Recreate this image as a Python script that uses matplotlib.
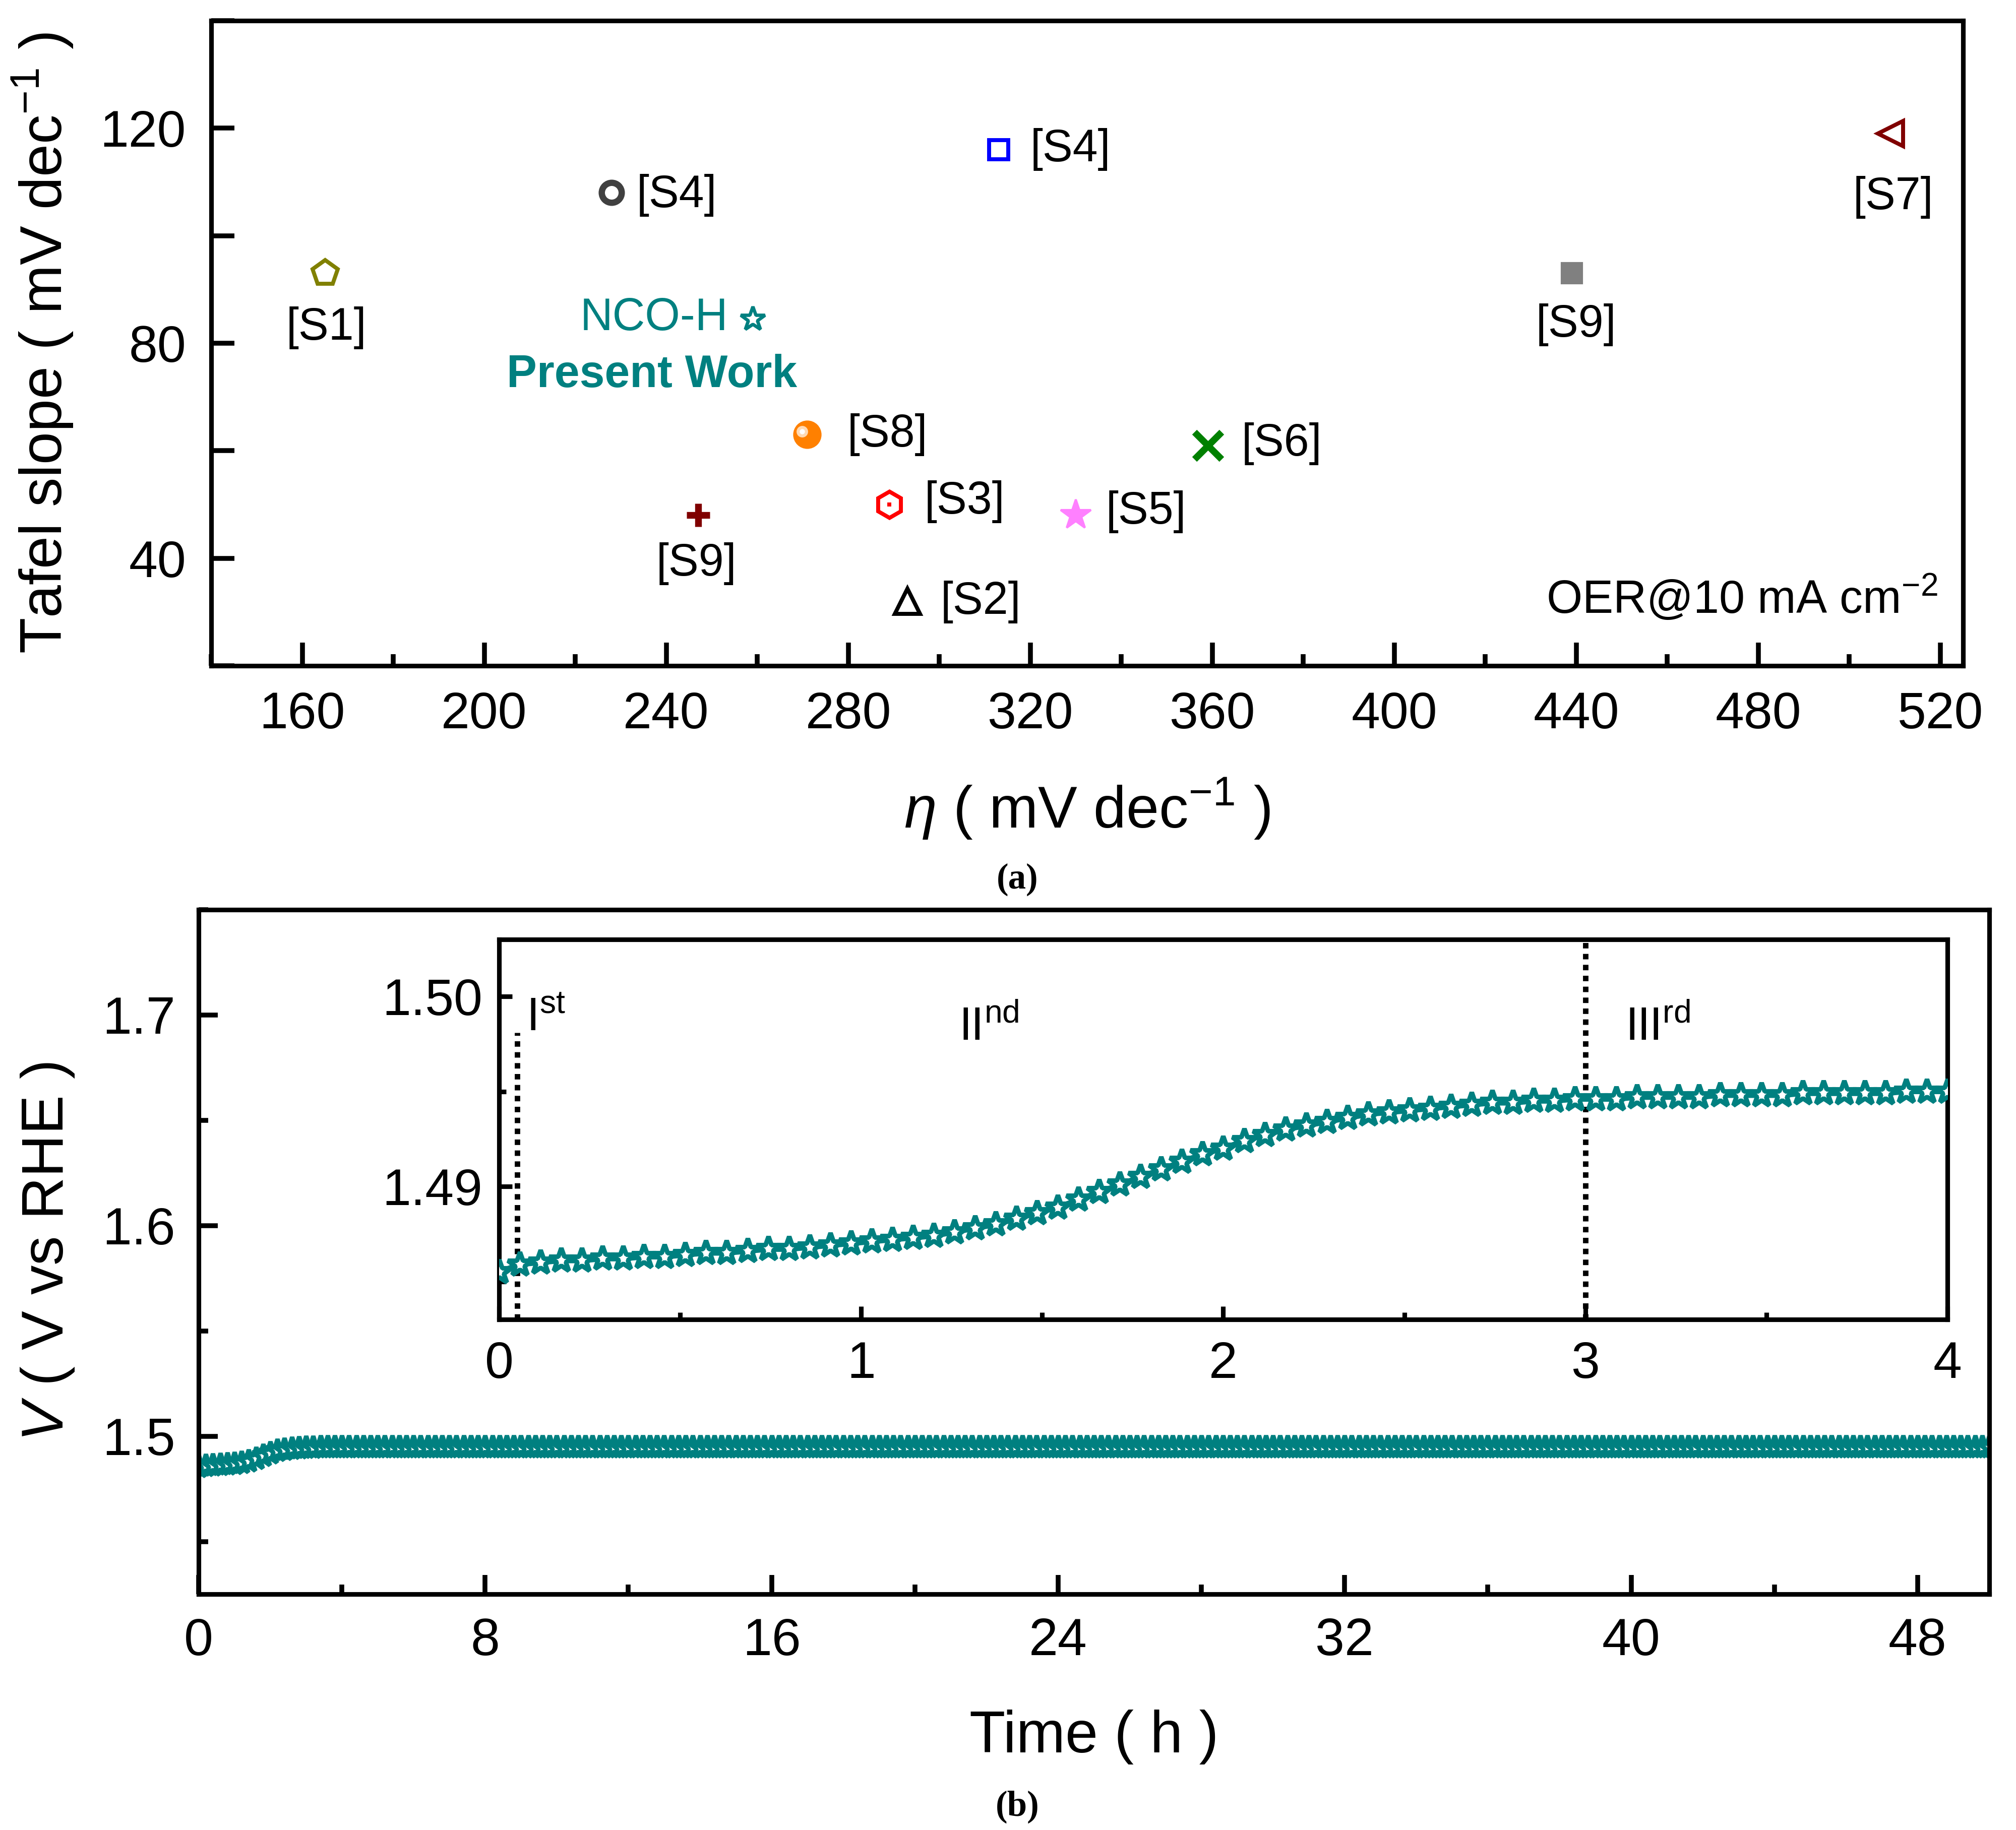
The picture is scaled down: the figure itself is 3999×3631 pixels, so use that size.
import numpy as np
import matplotlib
matplotlib.use('Agg')
import matplotlib.pyplot as plt
import matplotlib.transforms as mtrans
from matplotlib.ticker import MultipleLocator, FormatStrFormatter

plt.rcParams['font.family'] = ['Liberation Sans', 'DejaVu Sans']
plt.rcParams['mathtext.fontset'] = 'custom'
plt.rcParams['mathtext.rm'] = 'Liberation Sans'
plt.rcParams['mathtext.it'] = 'Liberation Sans:italic'
plt.rcParams['mathtext.bf'] = 'Liberation Sans:bold'

# ---------------- data: panel (a) ----------------
ref_labels = ['[S1]', '[S4]', '[S4]', '[S7]', '[S9]', 'NCO-H', '[S8]', '[S6]', '[S9]', '[S3]', '[S5]', '[S2]']
overpotential = [165, 228, 313, 509, 439, 259, 271, 359, 247, 289, 330, 293]
tafel_slope = [93, 108, 116, 119, 93, 84.5, 63, 61, 48, 50, 48, 32]

# ---------------- data: panel (b) ----------------
main_step_h = 0.2
# 0 h ... 4 h (21 values)
main_voltage_start = [
    1.4855, 1.4861, 1.4863, 1.4865, 1.4867, 1.4870, 1.4874, 1.4881, 1.4893, 1.4907,
    1.4920, 1.4931, 1.4938, 1.4942, 1.4944, 1.4946, 1.4947, 1.4948, 1.4949, 1.4949,
    1.4950,
]
# 4.2 h ... 50 h (230 values, 23 rows of 10)
main_voltage_plateau = [
    1.4950, 1.4950, 1.4950, 1.4950, 1.4950, 1.4950, 1.4950, 1.4950, 1.4950, 1.4950,  # 1
    1.4950, 1.4950, 1.4950, 1.4950, 1.4950, 1.4950, 1.4950, 1.4950, 1.4950, 1.4950,  # 2
    1.4950, 1.4950, 1.4950, 1.4950, 1.4950, 1.4950, 1.4950, 1.4950, 1.4950, 1.4950,  # 3
    1.4950, 1.4950, 1.4950, 1.4950, 1.4950, 1.4950, 1.4950, 1.4950, 1.4950, 1.4950,  # 4
    1.4950, 1.4950, 1.4950, 1.4950, 1.4950, 1.4950, 1.4950, 1.4950, 1.4950, 1.4950,  # 5
    1.4950, 1.4950, 1.4950, 1.4950, 1.4950, 1.4950, 1.4950, 1.4950, 1.4950, 1.4950,  # 6
    1.4950, 1.4950, 1.4950, 1.4950, 1.4950, 1.4950, 1.4950, 1.4950, 1.4950, 1.4950,  # 7
    1.4950, 1.4950, 1.4950, 1.4950, 1.4950, 1.4950, 1.4950, 1.4950, 1.4950, 1.4950,  # 8
    1.4950, 1.4950, 1.4950, 1.4950, 1.4950, 1.4950, 1.4950, 1.4950, 1.4950, 1.4950,  # 9
    1.4950, 1.4950, 1.4950, 1.4950, 1.4950, 1.4950, 1.4950, 1.4950, 1.4950, 1.4950,  # 10
    1.4950, 1.4950, 1.4950, 1.4950, 1.4950, 1.4950, 1.4950, 1.4950, 1.4950, 1.4950,  # 11
    1.4950, 1.4950, 1.4950, 1.4950, 1.4950, 1.4950, 1.4950, 1.4950, 1.4950, 1.4950,  # 12
    1.4950, 1.4950, 1.4950, 1.4950, 1.4950, 1.4950, 1.4950, 1.4950, 1.4950, 1.4950,  # 13
    1.4950, 1.4950, 1.4950, 1.4950, 1.4950, 1.4950, 1.4950, 1.4950, 1.4950, 1.4950,  # 14
    1.4950, 1.4950, 1.4950, 1.4950, 1.4950, 1.4950, 1.4950, 1.4950, 1.4950, 1.4950,  # 15
    1.4950, 1.4950, 1.4950, 1.4950, 1.4950, 1.4950, 1.4950, 1.4950, 1.4950, 1.4950,  # 16
    1.4950, 1.4950, 1.4950, 1.4950, 1.4950, 1.4950, 1.4950, 1.4950, 1.4950, 1.4950,  # 17
    1.4950, 1.4950, 1.4950, 1.4950, 1.4950, 1.4950, 1.4950, 1.4950, 1.4950, 1.4950,  # 18
    1.4950, 1.4950, 1.4950, 1.4950, 1.4950, 1.4950, 1.4950, 1.4950, 1.4950, 1.4950,  # 19
    1.4950, 1.4950, 1.4950, 1.4950, 1.4950, 1.4950, 1.4950, 1.4950, 1.4950, 1.4950,  # 20
    1.4950, 1.4950, 1.4950, 1.4950, 1.4950, 1.4950, 1.4950, 1.4950, 1.4950, 1.4950,  # 21
    1.4950, 1.4950, 1.4950, 1.4950, 1.4950, 1.4950, 1.4950, 1.4950, 1.4950, 1.4950,  # 22
    1.4950, 1.4950, 1.4950, 1.4950, 1.4950, 1.4950, 1.4950, 1.4950, 1.4950, 1.4950,  # 23
]
main_voltage = main_voltage_start + main_voltage_plateau
main_time = np.arange(len(main_voltage)) * main_step_h

inset_voltage = [
    1.4855, 1.4859, 1.4860, 1.4861, 1.4861, 1.4862, 1.4862, 1.4863, 1.4863, 1.4864,
    1.4865, 1.4865, 1.4866, 1.4867, 1.4867, 1.4868, 1.4869, 1.4870, 1.4871, 1.4872,
    1.4873, 1.4874, 1.4876, 1.4878, 1.4880, 1.4883, 1.4886, 1.4889, 1.4893, 1.4897,
    1.4901, 1.4905, 1.4909, 1.4913, 1.4917, 1.4920, 1.4924, 1.4927, 1.4930, 1.4932,
    1.4934, 1.4936, 1.4938, 1.4939, 1.4940, 1.4941, 1.4942, 1.4943, 1.4944, 1.4944,
    1.4945, 1.4945, 1.4946, 1.4946, 1.4946, 1.4947, 1.4947, 1.4947, 1.4947, 1.4948,
    1.4948, 1.4948, 1.4948, 1.4949, 1.4949, 1.4949, 1.4949, 1.4949, 1.4950, 1.4950,
    1.4950,
]
inset_time = np.linspace(0, 4, len(inset_voltage))
stage_bounds = [0.05, 3.0]
stage_labels = [r'I$^{\mathrm{st}}$', r'II$^{\mathrm{nd}}$', r'III$^{\mathrm{rd}}$']

TEAL = '#008080'

# ---------------- figure ----------------
fig = plt.figure(figsize=(3999 / 300, 3631 / 300), dpi=300)

# ======== panel (a) ========
axA = fig.add_axes([0.10478, 0.63619, 0.86897, 0.35252])

styles = [
    dict(marker='p', ms=12.5, mfc='none', mec='#808000', mew=1.9),
    dict(marker='o', ms=9.5, mfc='none', mec='#404040', mew=3.0),
    dict(marker='s', ms=9.0, mfc='none', mec='#0000FF', mew=1.9),
    dict(marker='<', ms=12, mfc='none', mec='#800000', mew=1.9),
    dict(marker='s', ms=9.5, mfc='#808080', mec='#808080', mew=1.0),
    dict(marker='*', ms=12, mfc='none', mec=TEAL, mew=1.6),
    dict(marker='o', ms=12.5, mfc='#FF8000', mec='#FF8000', mew=1.0),
    dict(marker='x', ms=13, mfc='none', mec='#008000', mew=3.2),
    dict(marker='+', ms=11, mfc='none', mec='#800000', mew=3.2),
    dict(marker='h', ms=12.5, mfc='none', mec='#FF0000', mew=1.9),
    dict(marker='*', ms=15, mfc='#FF80FF', mec='#FF80FF', mew=1.0),
    dict(marker='^', ms=12, mfc='none', mec='#000000', mew=1.9),
]
for x, y, st in zip(overpotential, tafel_slope, styles):
    axA.plot([x], [y], linestyle='none', zorder=3, **st)

# sphere highlight for [S8] and centre dot for [S3]
hl = mtrans.offset_copy(axA.transData, fig=fig, x=-2.5, y=1.5, units='points')
axA.plot([overpotential[6]], [tafel_slope[6]], 'o', ms=5.5, mfc='#FFD9B3', mec='none',
         transform=hl, zorder=4)
axA.plot([overpotential[6]], [tafel_slope[6]], 'o', ms=2.5, mfc='white', mec='none',
         transform=hl, zorder=5)
axA.plot([overpotential[9]], [tafel_slope[9]], 's', ms=1.8, mfc='#FF0000', mec='none', zorder=4)

label_pos = [
    (165.3, 82.9, 'center'),
    (233.5, 107.5, 'left'),
    (320.0, 116.0, 'left'),
    (509.6, 107.1, 'center'),
    (440.0, 83.4, 'center'),
    (253.6, 84.6, 'right'),
    (279.8, 63.0, 'left'),
    (366.4, 61.3, 'left'),
    (246.6, 39.0, 'center'),
    (296.7, 50.5, 'left'),
    (336.6, 48.6, 'left'),
    (300.3, 31.9, 'left'),
]
for lab, (lx, ly, ha) in zip(ref_labels, label_pos):
    col = TEAL if lab == 'NCO-H' else 'black'
    axA.text(lx, ly, lab, ha=ha, va='center', fontsize=21.5, color=col)
axA.text(236.8, 74.0, 'Present Work', ha='center', va='center', fontsize=21.5,
         fontweight='bold', color=TEAL)
axA.text(519.4, 32.6, r'OER@10 mA cm$^{-2}$', ha='right', va='center', fontsize=22)

axA.set_xlim(140, 525)
axA.set_ylim(20, 140)
axA.xaxis.set_major_locator(MultipleLocator(40))
axA.xaxis.set_minor_locator(MultipleLocator(20))
axA.yaxis.set_major_locator(MultipleLocator(40))
axA.yaxis.set_minor_locator(MultipleLocator(20))
axA.tick_params(which='both', direction='in', top=False, right=False, width=2.3,
                labelsize=24.5, pad=12)
axA.tick_params(axis='x', which='major', length=11)
axA.tick_params(axis='x', which='minor', length=5.5)
axA.tick_params(axis='y', which='both', length=11)
for sp in axA.spines.values():
    sp.set_linewidth(2.2)
axA.set_xlabel(r'$\eta$ ( mV dec$^{-1}$ )', fontsize=28)
axA.set_ylabel(r'Tafel slope ( mV dec$^{-1}$ )', fontsize=28)
axA.xaxis.set_label_coords(0.5, -0.222)
axA.xaxis.label.set_verticalalignment('center')
axA.yaxis.set_label_coords(-0.0961, 0.5)
axA.yaxis.label.set_verticalalignment('center')

# ======== panel (b) ========
axB = fig.add_axes([0.09852, 0.12889, 0.88822, 0.37400])
axB.plot(main_time, main_voltage, '-', color=TEAL, lw=2.0, marker='*', ms=11,
         mfc='white', mec=TEAL, mew=2.1)
axB.set_xlim(0, 50)
axB.set_ylim(1.425, 1.75)
axB.xaxis.set_major_locator(MultipleLocator(8))
axB.xaxis.set_minor_locator(MultipleLocator(4))
axB.yaxis.set_major_locator(MultipleLocator(0.1))
axB.yaxis.set_minor_locator(MultipleLocator(0.05))
axB.yaxis.set_major_formatter(FormatStrFormatter('%.1f'))
axB.tick_params(which='both', direction='in', top=False, right=False, width=2.3,
                labelsize=25, pad=11)
axB.tick_params(which='major', length=9.2)
axB.tick_params(which='minor', length=4.6)
for sp in axB.spines.values():
    sp.set_linewidth(2.2)
axB.set_xlabel('Time ( h )', fontsize=28)
axB.set_ylabel(r'$V$ ( V vs RHE )', fontsize=28)
axB.xaxis.set_label_coords(0.5, -0.209)
axB.xaxis.label.set_verticalalignment('center')
axB.yaxis.set_label_coords(-0.0842, 0.5)
axB.yaxis.label.set_verticalalignment('center')

# ======== inset ========
axI = fig.add_axes([0.24756, 0.27899, 0.71843, 0.20766])
axI.plot(inset_time, inset_voltage, '-', color=TEAL, lw=2.6, marker='*', ms=12,
         mfc='white', mec=TEAL, mew=2.2, zorder=3)
axI.set_xlim(0, 4)
axI.set_ylim(1.483, 1.503)
axI.axvline(stage_bounds[0], ymin=0, ymax=(1.4981 - 1.483) / (1.503 - 1.483),
            color='black', lw=2.6, linestyle=(0, (1, 1)), zorder=2)
axI.axvline(stage_bounds[1], color='black', lw=2.6, linestyle=(0, (1, 1)), zorder=2)
axI.text(0.075, 1.4982, stage_labels[0], fontsize=22, ha='left', va='baseline')
axI.text(1.27, 1.4977, stage_labels[1], fontsize=22, ha='left', va='baseline')
axI.text(3.11, 1.4977, stage_labels[2], fontsize=22, ha='left', va='baseline')
axI.xaxis.set_major_locator(MultipleLocator(1))
axI.xaxis.set_minor_locator(MultipleLocator(0.5))
axI.yaxis.set_major_locator(MultipleLocator(0.01))
axI.yaxis.set_minor_locator(MultipleLocator(0.005))
axI.yaxis.set_major_formatter(FormatStrFormatter('%.2f'))
axI.tick_params(which='both', direction='in', top=False, right=False, width=2.2,
                labelsize=24.5)
axI.tick_params(which='major', length=6.3)
axI.tick_params(which='minor', length=3.3)
axI.tick_params(axis='x', pad=10)
axI.tick_params(axis='y', pad=8)
for sp in axI.spines.values():
    sp.set_linewidth(2.2)

# captions
fig.text(0.5046, 0.5194, '(a)', ha='center', va='center', fontsize=17,
         fontweight='bold', family=['Liberation Serif', 'DejaVu Serif'])
fig.text(0.5046, 0.0035, '(b)', ha='center', va='bottom', fontsize=17,
         fontweight='bold', family=['Liberation Serif', 'DejaVu Serif'])

fig.savefig('out.png', dpi=300)
